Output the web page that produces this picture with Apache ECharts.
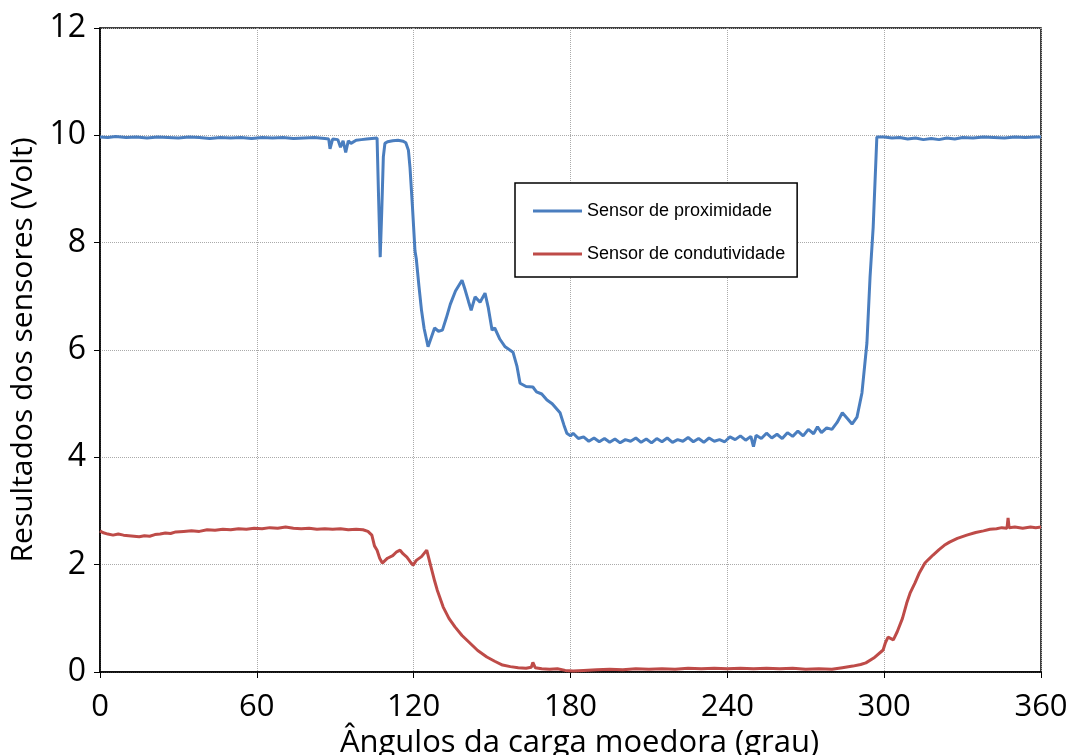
<!DOCTYPE html>
<html>
<head>
<meta charset="utf-8">
<script src="https://cdn.jsdelivr.net/npm/echarts@6/dist/echarts.min.js"></script>
<style>
	html, body { margin: 0; padding: 0; background: #fff; }
	#chart { width: 1072px; height: 755px; }
</style>
</head>
<body>
<div id="chart"></div>
<script>
// eixo x (graus) e leituras do sensor de proximidade
var proxAngles = [0, 3, 6, 10, 14, 18, 22, 26, 30, 34, 38, 42, 46, 50, 54, 58, 62, 66, 70, 74, 78, 82, 86, 87.5, 88, 88.6, 89, 91, 92, 93, 94, 95, 96, 98, 100, 102, 104, 106, 106.6, 107.2, 107.8, 108.4, 109, 110, 112, 114, 116, 117, 118, 118.6, 119.5, 120.5, 121, 122, 123, 124, 125.5, 126.5, 128, 129.5, 131, 132.5, 134, 136, 138.5, 139.5, 141, 142, 143.5, 145.4, 147.3, 148.5, 150, 151, 153, 155, 158, 159.5, 160.7, 163, 165.6, 167, 169, 171, 173, 176, 177.5, 178.6, 180, 181, 183, 185, 187, 189, 191, 193, 195, 197, 199, 201, 203, 205, 207, 209, 211, 213, 215, 217, 219, 221, 223, 225, 227, 229, 231, 233, 235, 237, 239, 241, 243, 245, 247, 249, 250, 251, 253, 255, 257, 259, 261, 263, 265, 267, 269, 271, 273, 274.5, 276, 278, 280, 282, 284, 286, 287.7, 289.6, 291.5, 293.4, 294.6, 295.8, 297.2, 300, 303, 306, 309, 312, 315, 318, 321, 324, 327, 330, 334, 338, 342, 346, 350, 354, 358, 360];
var proxValues = [9.97, 9.96, 9.98, 9.96, 9.97, 9.95, 9.97, 9.96, 9.95, 9.97, 9.96, 9.94, 9.96, 9.95, 9.96, 9.94, 9.96, 9.95, 9.96, 9.94, 9.95, 9.96, 9.94, 9.93, 9.75, 9.74, 9.93, 9.92, 9.78, 9.9, 9.68, 9.9, 9.85, 9.91, 9.92, 9.93, 9.94, 9.95, 8.8, 7.73, 8.6, 9.6, 9.85, 9.88, 9.9, 9.91, 9.89, 9.86, 9.72, 9.4, 8.7, 7.85, 7.7, 7.2, 6.74, 6.4, 6.06, 6.2, 6.41, 6.35, 6.37, 6.6, 6.85, 7.1, 7.3, 7.15, 6.9, 6.74, 6.99, 6.89, 7.06, 6.8, 6.37, 6.41, 6.2, 6.06, 5.96, 5.7, 5.38, 5.32, 5.31, 5.22, 5.18, 5.07, 5.0, 4.83, 4.6, 4.45, 4.4, 4.45, 4.35, 4.38, 4.3, 4.36, 4.29, 4.35, 4.28, 4.34, 4.27, 4.33, 4.3, 4.36, 4.28, 4.34, 4.27, 4.35, 4.29, 4.36, 4.28, 4.33, 4.3, 4.37, 4.29, 4.35, 4.28, 4.36, 4.3, 4.33, 4.29, 4.38, 4.33, 4.4, 4.32, 4.39, 4.2, 4.41, 4.35, 4.45, 4.36, 4.43, 4.35, 4.46, 4.39, 4.49, 4.4, 4.52, 4.44, 4.57, 4.46, 4.55, 4.52, 4.65, 4.83, 4.72, 4.62, 4.75, 5.2, 6.13, 7.36, 8.29, 9.97, 9.97, 9.95, 9.96, 9.93, 9.95, 9.92, 9.94, 9.92, 9.95, 9.93, 9.96, 9.95, 9.97, 9.96, 9.95, 9.97, 9.96, 9.97, 9.97];

// eixo x (graus) e leituras do sensor de condutividade
var condAngles = [0, 1, 3, 5, 7, 9, 11, 13, 15, 17, 19, 21, 23, 25, 27, 29, 32, 35, 38, 41, 44, 47, 50, 53, 56, 59, 62, 65, 68, 71, 74, 77, 80, 83, 86, 89, 92, 95, 98, 100.6, 102.5, 104, 105, 106, 107, 108, 110, 112, 113.5, 114.8, 116, 117.4, 118.6, 119.8, 121, 123, 125, 126.5, 128, 129, 131.3, 133.5, 135.8, 138.5, 141.5, 144.5, 148, 151, 154, 157, 160, 163, 165, 165.6, 166.5, 169, 172, 175, 178, 181, 185, 190, 195, 200, 205, 210, 215, 220, 225, 230, 235, 240, 245, 250, 255, 260, 265, 270, 275, 280, 284, 288, 291, 293, 296, 299.6, 300.5, 301.5, 303.5, 305, 307, 308.6, 310, 311.8, 313.5, 315.6, 317, 318.7, 321, 323, 325, 328, 331.6, 335, 338, 340.5, 343, 345, 347, 347.4, 347.8, 350, 353, 356, 358, 360];
var condValues = [2.63, 2.6, 2.57, 2.55, 2.57, 2.55, 2.54, 2.53, 2.52, 2.54, 2.53, 2.56, 2.57, 2.59, 2.58, 2.61, 2.62, 2.63, 2.62, 2.65, 2.64, 2.66, 2.65, 2.67, 2.66, 2.68, 2.67, 2.69, 2.68, 2.7, 2.68, 2.67, 2.68, 2.66, 2.67, 2.66, 2.67, 2.65, 2.66, 2.65, 2.62, 2.55, 2.35, 2.27, 2.12, 2.03, 2.12, 2.17, 2.24, 2.27, 2.2, 2.14, 2.06, 1.99, 2.08, 2.15, 2.27, 1.98, 1.7, 1.53, 1.21, 1.0, 0.84, 0.68, 0.54, 0.4, 0.28, 0.2, 0.13, 0.1, 0.08, 0.07, 0.09, 0.18, 0.08, 0.06, 0.05, 0.06, 0.03, 0.02, 0.03, 0.04, 0.05, 0.04, 0.06, 0.05, 0.06, 0.05, 0.07, 0.06, 0.07, 0.06, 0.07, 0.06, 0.07, 0.06, 0.07, 0.05, 0.06, 0.05, 0.08, 0.11, 0.14, 0.17, 0.26, 0.41, 0.55, 0.65, 0.6, 0.75, 1.0, 1.28, 1.48, 1.66, 1.85, 2.03, 2.1, 2.18, 2.28, 2.36, 2.42, 2.49, 2.55, 2.6, 2.63, 2.66, 2.67, 2.69, 2.68, 2.87, 2.69, 2.7, 2.68, 2.7, 2.69, 2.7];

var xTicks = [0, 60, 120, 180, 240, 300, 360];
var yTicks = [0, 2, 4, 6, 8, 10, 12];
var seriesNames = ["Sensor de proximidade", "Sensor de condutividade"];

function pairs(xs, ys) {
	var out = [];
	for(var i = 0; i < xs.length; i++) {
		out.push([xs[i], ys[i]]);
	}
	return out;
}

var chart = echarts.init(document.getElementById("chart"));
var axisFont = "'Open Sans', 'DejaVu Sans', sans-serif";

var option = {
	backgroundColor: "#fff",
	animation: false,
	grid: {
		left: 100,
		right: 31,
		top: 28,
		bottom: 83,
		outerBoundsMode: "none",
		show: true,
		borderColor: "#000",
		borderWidth: 1.5
	},
	legend: {
		orient: "vertical",
		left: 515,
		top: 183,
		data: seriesNames,
		icon: "rect",
		itemWidth: 49,
		itemHeight: 3,
		itemGap: 25,
		padding: [19, 12, 14, 18],
		borderColor: "#000",
		borderWidth: 1.5,
		backgroundColor: "#fff",
		textStyle: {
			fontFamily: "'Liberation Sans', Arial, sans-serif",
			fontSize: 18,
			color: "#000"
		}
	},
	xAxis: {
		type: "value",
		min: xTicks[0],
		max: xTicks[xTicks.length - 1],
		interval: 60,
		name: "Ângulos da carga moedora (grau)",
		nameLocation: "middle",
		nameGap: 52,
		nameTextStyle: {
			fontFamily: axisFont,
			fontSize: 31,
			color: "#000",
			padding: [0, 0, 0, 18]
		},
		axisLine: { show: true, lineStyle: { color: "#000", width: 1.5 } },
		axisTick: { show: true, inside: false, length: 6, lineStyle: { color: "#000" } },
		axisLabel: {
			fontFamily: axisFont,
			fontSize: 31,
			color: "#000",
			margin: 20
		},
		splitLine: { show: true, lineStyle: { color: "#aaa", type: "dotted", width: 1 } }
	},
	yAxis: {
		type: "value",
		min: yTicks[0],
		max: yTicks[yTicks.length - 1],
		interval: 2,
		name: "Resultados dos sensores (Volt)",
		nameLocation: "middle",
		nameGap: 62,
		nameTextStyle: {
			fontFamily: axisFont,
			fontSize: 30,
			color: "#000"
		},
		axisLine: { show: true, lineStyle: { color: "#000", width: 1.5 } },
		axisTick: { show: true, inside: false, length: 6, lineStyle: { color: "#000" } },
		axisLabel: {
			fontFamily: axisFont,
			fontSize: 32,
			color: "#000",
			margin: 14
		},
		splitLine: { show: true, lineStyle: { color: "#aaa", type: "dotted", width: 1 } }
	},
	series: [{
		name: seriesNames[0],
		type: "line",
		data: pairs(proxAngles, proxValues),
		showSymbol: false,
		symbol: "none",
		lineStyle: { color: "#4a7ebf", width: 3 },
		itemStyle: { color: "#4a7ebf" }
	}, {
		name: seriesNames[1],
		type: "line",
		data: pairs(condAngles, condValues),
		showSymbol: false,
		symbol: "none",
		lineStyle: { color: "#be4b48", width: 3 },
		itemStyle: { color: "#be4b48" }
	}]
};

chart.setOption(option);
</script>
</body>
</html>
